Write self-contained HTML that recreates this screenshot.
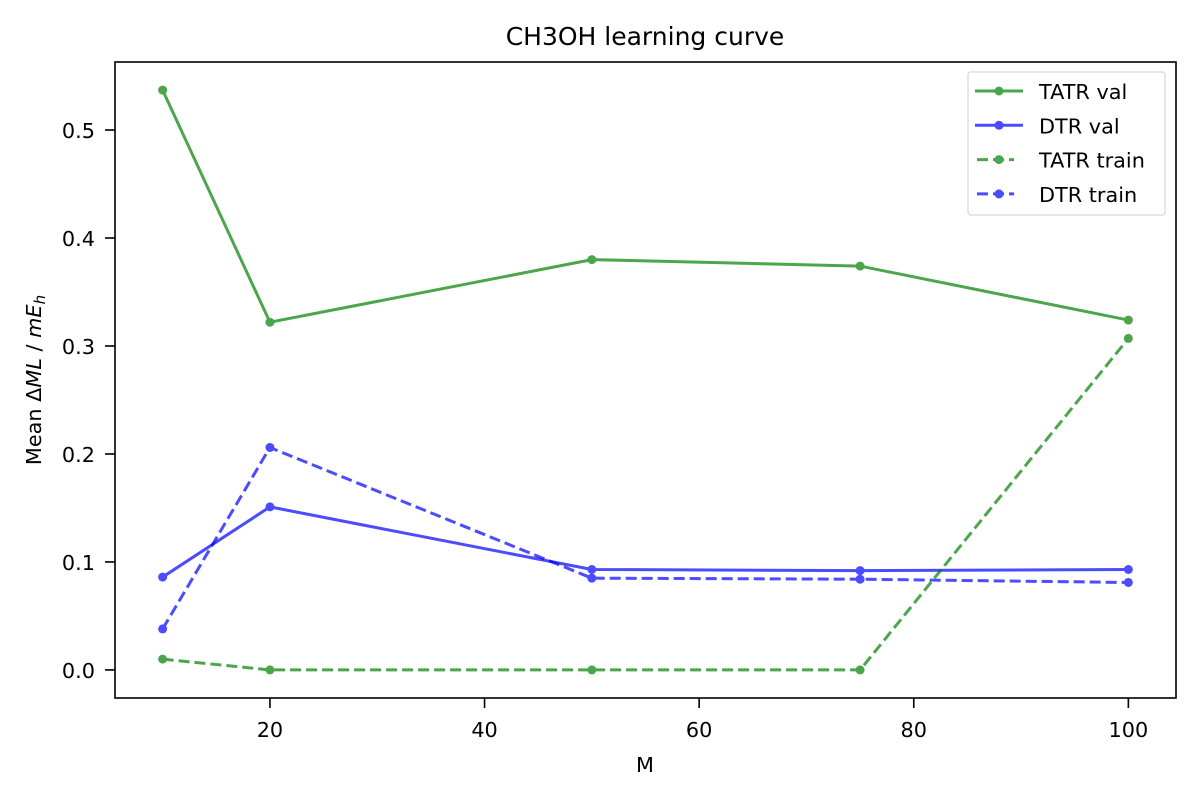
<!DOCTYPE html>
<html><head><meta charset="utf-8"><style>
body{margin:0;background:#fff;}
svg{display:block;font-family:"DejaVu Sans","Liberation Sans",sans-serif;}
</style></head><body>
<svg id="chart" width="1200" height="800" viewBox="0 0 1200 800">
<rect x="0" y="0" width="1200" height="800" fill="#fff"/>
<text x="645" y="45" font-size="25" text-anchor="middle">CH3OH learning curve</text>
<g id="grid"></g>
<g id="series"></g>
<rect x="115" y="62" width="1061" height="636" fill="none" stroke="#000" stroke-width="1.6"/>
<text x="645" y="772" font-size="20.8" text-anchor="middle">M</text>
<text transform="translate(41,380) rotate(-90)" font-size="20.8" text-anchor="middle">Mean Δ<tspan font-style="italic">ML</tspan> / <tspan font-style="italic">mE</tspan><tspan font-style="italic" font-size="15" dy="4">h</tspan></text>
<g id="legend">
<rect x="968" y="72" width="197" height="143" fill="#fff" fill-opacity="0.8" stroke="#ddd" stroke-width="1.5" rx="3"/>
</g>
</svg>
<script>
const xValues=[10,20,50,75,100];
const tatrVal=[0.537,0.322,0.380,0.374,0.324];
const dtrVal=[0.086,0.151,0.093,0.092,0.093];
const tatrTrain=[0.010,0.000,0.000,0.000,0.307];
const dtrTrain=[0.038,0.206,0.085,0.084,0.081];
const xTicks=[20,40,60,80,100];
const yTicks=[0.0,0.1,0.2,0.3,0.4,0.5];
const seriesNames=["TATR val","DTR val","TATR train","DTR train"];

const NS="http://www.w3.org/2000/svg";
const svg=document.getElementById('chart');
const X0=115,X1=1176,Y0=698,Y1=62;
const xMin=5.56,xMax=104.44,yMin=-0.026,yMax=0.563;
const xs=v=>X0+(v-xMin)/(xMax-xMin)*(X1-X0);
const ys=v=>Y0-(v-yMin)/(yMax-yMin)*(Y0-Y1);
function mk(tag,attrs,parent){const e=document.createElementNS(NS,tag);for(const k in attrs)e.setAttribute(k,attrs[k]);(parent||svg).appendChild(e);return e;}
const grid=document.getElementById('grid');
xTicks.forEach(t=>{
  const l=mk('line',{x1:xs(t),x2:xs(t),y1:Y0,y2:Y0+10,stroke:'#000','stroke-width':1.6},grid);
  
  
  const tx=mk('text',{x:xs(t),y:737,'font-size':20.8,'text-anchor':'middle'},grid);
  tx.textContent=String(t);
  
  
});
yTicks.forEach(t=>{
  const l=mk('line',{x1:X0-10,x2:X0,y1:ys(t),y2:ys(t),stroke:'#000','stroke-width':1.6},grid);
  
  
  const tx=mk('text',{x:95,y:ys(t)+8,'font-size':20.8,'text-anchor':'end'},grid);
  tx.textContent=t.toFixed(1);
  
  
});
const sdata=[tatrVal,dtrVal,tatrTrain,dtrTrain];
const colors=['green','blue','green','blue'];
const dashed=[false,false,true,true];
const g=document.getElementById('series');
const leg=document.getElementById('legend');
sdata.forEach((vals,i)=>{
  const grp=mk('g',{opacity:0.7},g);
  
  
  const pts=vals.map((v,j)=>xs(xValues[j])+','+ys(v)).join(' ');
  mk('polyline',{points:pts,fill:'none',stroke:colors[i],'stroke-width':3,'stroke-dasharray':dashed[i]?'11,5':'none'},grp);
  vals.forEach((v,j)=>{
    const c=mk('circle',{cx:xs(xValues[j]),cy:ys(v),r:4.5,fill:colors[i]},grp);
    
    
  });
  const ly=91+i*34.3;
  const lg=mk('g',{},leg);
  
  
  const lgl=mk('g',{opacity:0.7},lg);
  if(dashed[i]){
    mk('line',{x1:977,x2:1014,y1:ly,y2:ly,stroke:colors[i],'stroke-width':3,'stroke-dasharray':'11,5'},lgl);
  } else {
    mk('line',{x1:975,x2:1023,y1:ly,y2:ly,stroke:colors[i],'stroke-width':3},lgl);
  }
  mk('circle',{cx:999,cy:ly,r:4.5,fill:colors[i]},lgl);
  const t=mk('text',{x:1039,y:ly+8,'font-size':20.8},lg);
  t.textContent=seriesNames[i];
});
</script>
</body></html>
